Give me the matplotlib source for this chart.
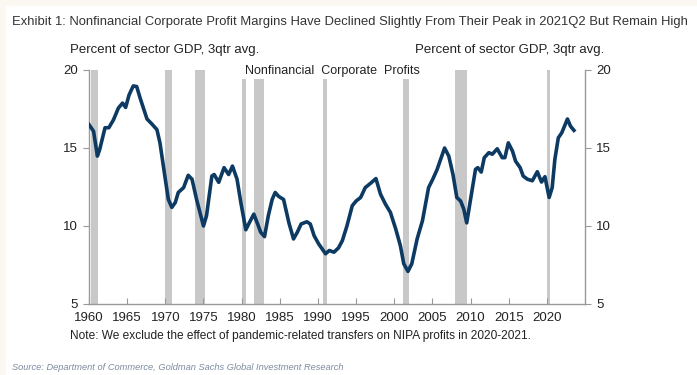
import matplotlib.pyplot as plt
from matplotlib.patches import Rectangle

# profit margin, percent of sector GDP (3qtr avg)
years = [1960.0, 1960.6, 1961.1, 1961.4, 1962.1, 1962.6, 1963.2, 1963.85, 1964.4, 1964.8,
         1965.25, 1965.8, 1966.25, 1966.7, 1967.6, 1968.2, 1968.9, 1969.3, 1970.0, 1970.4,
         1970.85, 1971.3, 1971.7, 1972.4, 1973.0, 1973.5, 1974.1, 1975.0, 1975.4, 1976.1,
         1976.4, 1977.0, 1977.7, 1978.3, 1978.8, 1979.4, 1979.9, 1980.55, 1981.0, 1981.6,
         1982.1, 1982.5, 1983.0, 1983.5, 1984.0, 1984.4, 1984.85, 1985.5, 1986.2, 1986.8,
         1987.3, 1987.8, 1988.55, 1989.0, 1989.5, 1990.1, 1991.0, 1991.5, 1992.1, 1992.7,
         1993.2, 1993.8, 1994.5, 1995.0, 1995.6, 1996.2, 1996.9, 1997.6, 1998.2, 1998.85,
         1999.5, 2000.2, 2000.8, 2001.25, 2001.8, 2002.3, 2003.0, 2003.7, 2004.5, 2005.05,
         2005.6, 2006.6, 2007.15, 2007.7, 2008.2, 2008.7, 2009.1, 2009.5, 2010.0, 2010.65,
         2010.95, 2011.4, 2011.8, 2012.4, 2012.85, 2013.5, 2014.15, 2014.5, 2014.95, 2015.5,
         2015.9, 2016.5, 2016.9, 2017.45, 2018.1, 2018.75, 2019.3, 2019.75, 2020.3, 2020.7,
         2021.05, 2021.5, 2021.95, 2022.7, 2023.1, 2023.55]
margins = [16.5, 16.07, 14.48, 14.9, 16.3, 16.3, 16.8, 17.56, 17.88, 17.6,
           18.4, 18.98, 18.94, 18.2, 16.86, 16.56, 16.18, 15.33, 13.0, 11.7,
           11.19, 11.5, 12.15, 12.46, 13.25, 13.0, 11.7, 10.0, 10.66, 13.2,
           13.3, 12.8, 13.74, 13.3, 13.84, 13.0, 11.5, 9.76, 10.2, 10.76,
           10.13, 9.6, 9.32, 10.66, 11.7, 12.15, 11.9, 11.7, 10.2, 9.17,
           9.6, 10.13, 10.27, 10.13, 9.38, 8.85, 8.22, 8.43, 8.32, 8.6,
           9.06, 10.0, 11.3, 11.6, 11.83, 12.46, 12.74, 13.04, 12.04, 11.4,
           10.87, 9.8, 8.75, 7.58, 7.09, 7.58, 9.17, 10.34, 12.46, 13.0,
           13.6, 15.0, 14.48, 13.3, 11.83, 11.6, 11.1, 10.2, 11.7, 13.63,
           13.74, 13.46, 14.38, 14.7, 14.6, 14.95, 14.38, 14.38, 15.33, 14.8,
           14.16, 13.74, 13.2, 13.0, 12.9, 13.48, 12.82, 13.16, 11.83, 12.46,
           14.27, 15.65, 15.97, 16.86, 16.4, 16.13]

# recessions: start, end, bar top
rec_start = [1960.3, 1969.9, 1973.9, 1980.1, 1981.6, 1990.6, 2001.1, 2007.9, 2020.05]
rec_end = [1961.2, 1970.9, 1975.2, 1980.6, 1982.9, 1991.2, 2001.9, 2009.5, 2020.45]
rec_top = [20, 20, 20, 19.4, 19.4, 19.4, 19.4, 20, 20]

xticks = list(range(1960, 2021, 5))
yticks = [5, 10, 15, 20]

plt.rcParams['font.family'] = ['Liberation Sans', 'DejaVu Sans']

fig = plt.figure(figsize=(6.97, 3.75), dpi=100)
fig.patch.set_facecolor('#fbf7f1')
# white page inside a thin cream border
fig.add_artist(Rectangle((6 / 697, 0), 1, 1 - 6 / 375, transform=fig.transFigure,
                         facecolor='white', edgecolor='none', zorder=-10))

ax = fig.add_axes([89 / 697, 1 - 304 / 375, 496 / 697, 234 / 375])
ax.set_facecolor('none')
for s, e, t in zip(rec_start, rec_end, rec_top):
    ax.fill_between([s, e], 5, t, color='#c8c8c8', linewidth=0, zorder=1)
ax.plot(years, margins, color='#0d3a63', linewidth=2.6, solid_joinstyle='round', zorder=3)

ax.set_xlim(1960, 2025)
ax.set_ylim(5, 20)
ax.set_xticks(xticks)
ax.set_yticks(yticks)
ax.tick_params(axis='x', direction='in', length=4, color='#999999', labelsize=9.5, pad=6,
               labelcolor='#222222')
ax.tick_params(axis='y', direction='out', length=4, color='#999999', labelsize=9.5, pad=4,
               labelcolor='#222222', right=True, labelright=True)
for side in ['left', 'right', 'bottom']:
    ax.spines[side].set_color('#999999')
    ax.spines[side].set_linewidth(1)
ax.spines['top'].set_visible(False)

fig.text(12 / 697, 1 - 22 / 375, 'Exhibit 1: Nonfinancial Corporate Profit Margins Have Declined '
         'Slightly From Their Peak in 2021Q2 But Remain High', fontsize=9.4, color='#333333',
         va='center')
fig.text(70 / 697, 1 - 50 / 375, 'Percent of sector GDP, 3qtr avg.', fontsize=9.5,
         color='#222222', va='center')
fig.text(415 / 697, 1 - 50 / 375, 'Percent of sector GDP, 3qtr avg.', fontsize=9.5,
         color='#222222', va='center')
fig.text(245 / 697, 1 - 71 / 375, 'Nonfinancial  Corporate  Profits', fontsize=9.0,
         color='#222222', va='center')
fig.text(70 / 697, 1 - 336 / 375, 'Note: We exclude the effect of pandemic-related transfers '
         'on NIPA profits in 2020-2021.', fontsize=8.6, color='#222222', va='center')
fig.text(12 / 697, 1 - 367 / 375, 'Source: Department of Commerce, Goldman Sachs Global '
         'Investment Research', fontsize=6.7, style='italic', color='#7d8ba0', va='center')

fig.savefig('out.png', dpi=100)
